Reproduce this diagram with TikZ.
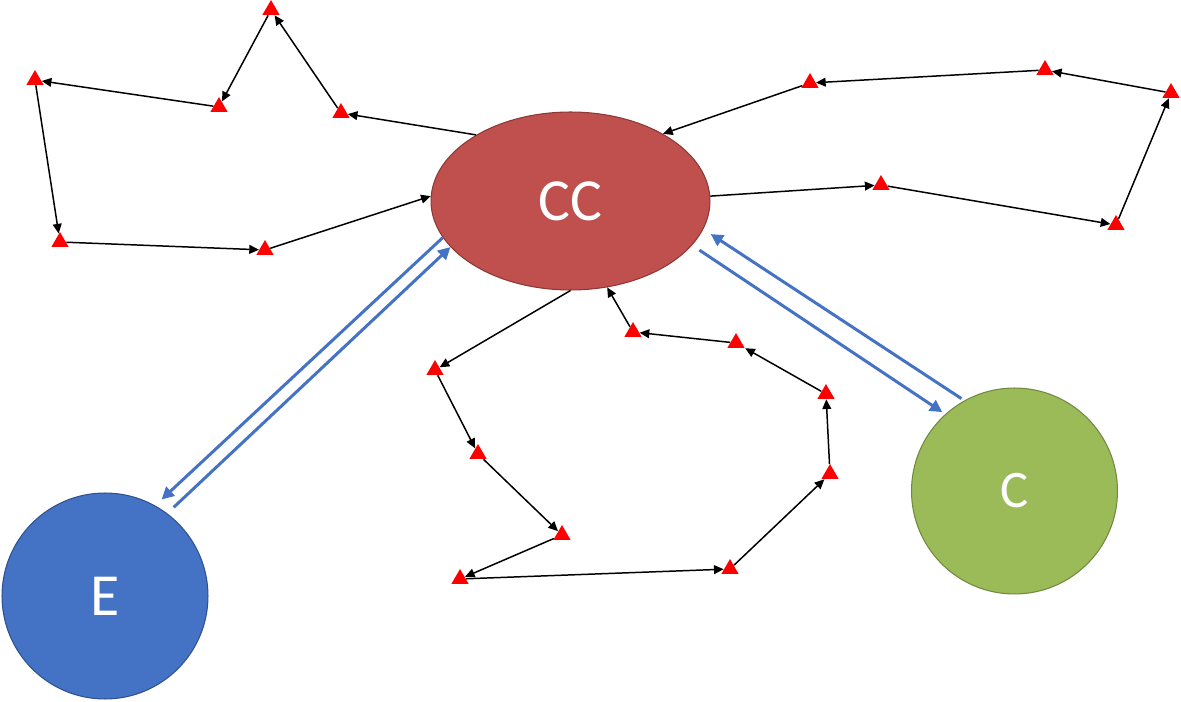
\documentclass[tikz,border=0pt]{standalone}
\usepackage{fontspec}
\setmainfont{Carlito}
\usepackage{tikz}
\usetikzlibrary{shapes.geometric, arrows.meta}
\definecolor{ccRed}{HTML}{C0504D}
\definecolor{ccRedDark}{HTML}{8C3836}
\definecolor{eBlue}{HTML}{4472C4}
\definecolor{eBlueDark}{HTML}{2F528F}
\definecolor{cGreen}{HTML}{9BBB59}
\definecolor{cGreenDark}{HTML}{71893F}

\begin{document}
\begin{tikzpicture}[
        x=0.02cm, y=-0.02cm,
        hub/.style={ellipse, draw=ccRedDark, line width=0.6pt, fill=ccRed, minimum width=5.58cm, minimum height=3.56cm, inner sep=0pt, text=white, font=\fontsize{34}{40}\selectfont},
        site/.style={circle, line width=0.6pt, minimum size=4.12cm, inner sep=0pt, text=white},
        tri/.style={regular polygon, regular polygon sides=3, fill=red, minimum size=0.4cm, inner sep=0pt},
        arrow/.style={-{Triangle[length=5.5pt, width=5pt]}, line width=0.85pt, color=black},
        link/.style={-{Triangle[length=7pt, width=7pt]}, line width=1.7pt, color=eBlue}
    ]
    \useasboundingbox (0,0) rectangle (1181,702);

    % Nodes
    \node[hub] (cc) at (570.5,201) {CC};
    \node[site, fill=eBlue, draw=eBlueDark, font=\fontsize{34}{40}\selectfont] (e) at (105,596) {E};
    \node[site, fill=cGreen, draw=cGreenDark, font=\fontsize{30}{36}\selectfont] (c) at (1014.5,491) {C};

    % Left loop
    \node[tri] (t1) at (341,113) {};
    \node[tri] (t2) at (271,10) {};
    \node[tri] (t3) at (219,107) {};
    \node[tri] (t4) at (35,80) {};
    \node[tri] (t5) at (60,242) {};
    \node[tri] (t6) at (265,250) {};

    % Right loop
    \node[tri] (r1) at (881,185) {};
    \node[tri] (r2) at (1116,225) {};
    \node[tri] (r3) at (1171,93) {};
    \node[tri] (r4) at (1045,70) {};
    \node[tri] (r5) at (810,83) {};

    % Bottom loop
    \node[tri] (b1) at (435,370) {};
    \node[tri] (b2) at (478,454) {};
    \node[tri] (b3) at (562,535) {};
    \node[tri] (b4) at (460,579) {};
    \node[tri] (b5) at (730,569) {};
    \node[tri] (b6) at (830,474) {};
    \node[tri] (b7) at (826,394) {};
    \node[tri] (b8) at (736,343) {};
    \node[tri] (b9) at (633,332) {};

    % Connections
    \draw[arrow] (cc.145) -- (t1);
    \draw[arrow] (t1) -- (t2);
    \draw[arrow] (t2) -- (t3);
    \draw[arrow] (t3) -- (t4);
    \draw[arrow] (t4) -- (t5);
    \draw[arrow] (t5) -- (t6);
    \draw[arrow] (t6) -- (cc.178);

    \draw[arrow] (cc.2) -- (r1);
    \draw[arrow] (r1) -- (r2);
    \draw[arrow] (r2) -- (r3);
    \draw[arrow] (r3) -- (r4);
    \draw[arrow] (r4) -- (r5);
    \draw[arrow] (r5) -- (cc.36);

    \draw[arrow] (cc.270) -- (b1);
    \draw[arrow] (b1) -- (b2);
    \draw[arrow] (b2) -- (b3);
    \draw[arrow] (b3) -- (b4);
    \draw[arrow] (b4) -- (b5);
    \draw[arrow] (b5) -- (b6);
    \draw[arrow] (b6) -- (b7);
    \draw[arrow] (b7) -- (b8);
    \draw[arrow] (b8) -- (b9);
    \draw[arrow] (b9) -- (cc.293);

    \draw[link, shorten >=5pt] (cc.196) -- (e.61);
    \draw[link, shorten <=5pt] (e.53) -- (cc.201);
    \draw[link, shorten <=5pt, shorten >=2pt] (cc.340) -- (c.132);
    \draw[link, shorten <=2pt, shorten >=5pt] (c.119) -- (cc.348);

\end{tikzpicture}
\end{document}
